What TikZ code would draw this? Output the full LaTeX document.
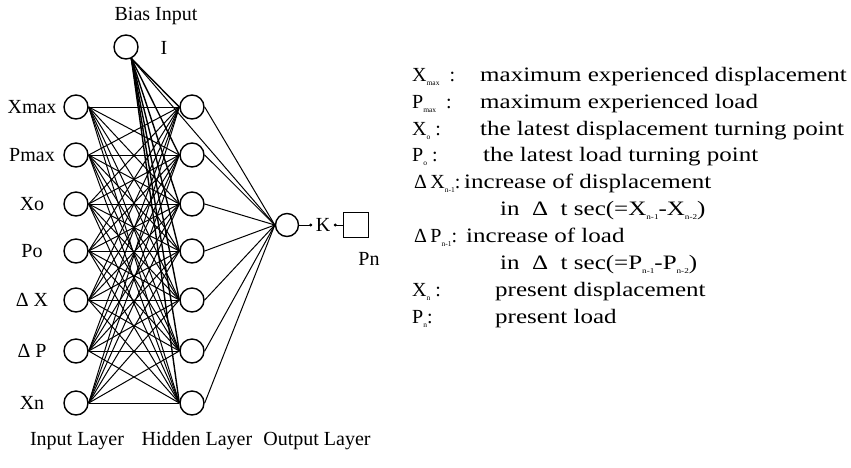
\documentclass[tikz,border=0pt]{standalone}
\usepackage{fontspec}
\setmainfont{Liberation Serif}
\newfontfamily\legfont[FakeStretch=1.22]{Liberation Serif}
\usetikzlibrary{arrows.meta}
\newcommand{\lsub}[1]{\raisebox{-4.5pt}{\fontsize{7.5}{7.5}\selectfont #1}}

\begin{document}
\begin{tikzpicture}[x=1pt,y=-1pt,>=latex,
  neuron/.style={circle,draw,line width=1.4pt,minimum size=24pt,inner sep=0pt},
  link/.style={line width=1pt},
  lbl/.style={font=\fontsize{20}{22}\selectfont},
  sym/.style={anchor=base west,inner sep=0pt,font=\fontsize{20}{22}\selectfont},
  leg/.style={anchor=base west,inner sep=0pt,font=\fontsize{20.5}{22}\legfont}]
  \useasboundingbox (0,0) rectangle (851,467);
  % layers
  \foreach \y/\t [count=\i] in {107/Xmax,155/Pmax,204/Xo,251/Po,300/Δ X,351/Δ P,403/Xn}{
    \node[neuron] (in\i) at (76,\y) {};
    \node[lbl] (lab\i) at (32,\y) {\t};
    \node[neuron] (hid\i) at (192,\y) {};
  }
  \node[neuron] (bias) at (126,47) {};
  \node[lbl] (biaslab) at (156,16) {Bias Input};
  \node[lbl] (one) at (164,48) {I};
  \node[neuron,minimum size=23pt] (out) at (287,225) {};
  % connections
  \foreach \i in {1,...,7}
    \foreach \j in {1,...,7}
      \draw[link] (in\i.east) -- (hid\j.west);
  \foreach \j in {1,...,7}{
    \draw[link,line width=1.4pt] (bias.-65) -- (hid\j.west);
    \draw[link] (hid\j.east) -- (out.west);
  }
  \draw[link] (bias.-65) -- (out.west);
  % output side
  \node[lbl] (k) at (323,225) {K};
  \node[draw,line width=1.4pt,minimum size=25pt,inner sep=0pt] (pn) at (356,225) {};
  \node[lbl] (pnlab) at (369,259) {Pn};
  \draw[line width=1pt,-{Circle[length=3pt]}] (out.east) -- (k.west);
  \draw[line width=1pt,-{Circle[length=3pt]}] (pn.west) -- (k.east);
  \node[lbl] (inlay) at (77,441) {Input Layer};
  \node[lbl] (hidlay) at (197,441) {Hidden Layer};
  \node[lbl] (outlay) at (317,441) {Output Layer};
  % legend
  \node[sym] (s1) at (412,81) {X\lsub{max}\ \ :};
  \node[leg] (d1) at (480,81) {maximum experienced displacement};
  \node[sym] (s2) at (412,108) {P\lsub{max}\ \ :};
  \node[leg] (d2) at (480,108) {maximum experienced load};
  \node[sym] (s3) at (412,135) {X\lsub{o}\ :};
  \node[leg] (d3) at (480,135) {the latest displacement turning point};
  \node[sym] (s4) at (412,161) {P\lsub{o}\ :};
  \node[leg] (d4) at (483,161) {the latest load turning point};
  \node[sym] (s5) at (414,188) {Δ\,X\lsub{n-1}:};
  \node[leg] (d5) at (464,188) {increase of displacement};
  \node[leg] (d6) at (500,215) {in\ \ Δ\ \ t sec(=X\lsub{n-1}-X\lsub{n-2})};
  \node[sym] (s7) at (414,242) {Δ\,P\lsub{n-1}:};
  \node[leg] (d7) at (466,242) {increase of load};
  \node[leg] (d8) at (500,269) {in\ \ Δ\ \ t sec(=P\lsub{n-1}-P\lsub{n-2})};
  \node[sym] (s9) at (412,296) {X\lsub{n}\ :};
  \node[leg] (d9) at (495,296) {present displacement};
  \node[sym] (s10) at (412,323) {P\lsub{n}:};
  \node[leg] (d10) at (495,323) {present load};
\end{tikzpicture}
\end{document}
